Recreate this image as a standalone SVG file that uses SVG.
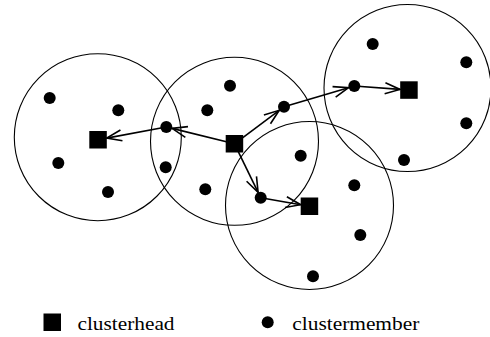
<svg xmlns="http://www.w3.org/2000/svg" width="490" height="337" viewBox="0 0 490 337">
<style>
.range{fill:none;stroke:#000;stroke-width:1.1}
.head{fill:#000}
.mem{fill:#000}
.conn line{stroke:#000;stroke-width:1.6}
.lbl{font-family:"Liberation Serif",serif;font-size:18px;fill:#000}
</style>
<defs>
<marker id="arr" markerUnits="userSpaceOnUse" viewBox="-17 -7 19 14" refX="0" refY="0" markerWidth="19" markerHeight="14" orient="auto" overflow="visible">
<path d="M -15 -5.5 L 0 0 L -15 5.5" fill="none" stroke="#000" stroke-width="1.6"/>
</marker>
</defs>
<rect width="490" height="337" fill="#fff"/>
<g id="ranges">
<circle class="range" cx="97.8" cy="137.2" r="83.5"/>
<circle class="range" cx="234.5" cy="141.3" r="84"/>
<circle class="range" cx="309.5" cy="205.5" r="84"/>
<circle class="range" cx="407.5" cy="88" r="83.5"/>
</g>
<g class="conn" id="connectors">
<line x1="234.5" y1="143.8" x2="172.1" y2="128.4" marker-end="url(#arr)"/>
<line x1="166.3" y1="127" x2="106.7" y2="138.1" marker-end="url(#arr)"/>
<line x1="234.5" y1="143.8" x2="279.2" y2="110.3" marker-end="url(#arr)"/>
<line x1="284" y1="106.7" x2="348.5" y2="87.7" marker-end="url(#arr)"/>
<line x1="354.3" y1="86" x2="400" y2="89.4" marker-end="url(#arr)"/>
<line x1="234.5" y1="143.8" x2="258.1" y2="192.3" marker-end="url(#arr)"/>
<line x1="260.7" y1="197.7" x2="300.7" y2="204.7" marker-end="url(#arr)"/>
</g>
<g id="ch1"><rect class="head" x="89.3" y="131" width="17.5" height="17.5"/></g>
<g id="ch2"><rect class="head" x="225.7" y="135" width="17.5" height="17.5"/></g>
<g id="ch3"><rect class="head" x="300.7" y="197.5" width="17.5" height="17.5"/></g>
<g id="ch4"><rect class="head" x="400.2" y="81.3" width="17.5" height="17.5"/></g>
<g id="m1"><circle class="mem" cx="49.7" cy="98" r="6"/></g>
<g id="m2"><circle class="mem" cx="118.3" cy="110.3" r="6"/></g>
<g id="m3"><circle class="mem" cx="58.3" cy="163" r="6"/></g>
<g id="m4"><circle class="mem" cx="108" cy="192" r="6"/></g>
<g id="m5"><circle class="mem" cx="166.3" cy="127" r="6"/></g>
<g id="m6"><circle class="mem" cx="165.7" cy="167.3" r="6"/></g>
<g id="m7"><circle class="mem" cx="207.3" cy="110.3" r="6"/></g>
<g id="m8"><circle class="mem" cx="230" cy="85.7" r="6"/></g>
<g id="m9"><circle class="mem" cx="205.3" cy="189.3" r="6"/></g>
<g id="m10"><circle class="mem" cx="284" cy="106.7" r="6"/></g>
<g id="m11"><circle class="mem" cx="354.3" cy="86" r="6"/></g>
<g id="m12"><circle class="mem" cx="372.7" cy="44" r="6"/></g>
<g id="m13"><circle class="mem" cx="466.3" cy="62.3" r="6"/></g>
<g id="m14"><circle class="mem" cx="466.3" cy="123.3" r="6"/></g>
<g id="m15"><circle class="mem" cx="404" cy="160" r="6"/></g>
<g id="m16"><circle class="mem" cx="300.7" cy="155.7" r="6"/></g>
<g id="m17"><circle class="mem" cx="354.3" cy="185.3" r="6"/></g>
<g id="m18"><circle class="mem" cx="260.7" cy="197.7" r="6"/></g>
<g id="m19"><circle class="mem" cx="360.3" cy="235" r="6"/></g>
<g id="m20"><circle class="mem" cx="313" cy="276.3" r="6"/></g>
<g id="legend">
<rect class="head" x="43.5" y="313.5" width="17.5" height="17.5"/>
<text class="lbl" x="77.5" y="330" textLength="97" lengthAdjust="spacingAndGlyphs">clusterhead</text>
<circle class="mem" cx="267.7" cy="322.3" r="6"/>
<text class="lbl" x="292.3" y="330" textLength="127" lengthAdjust="spacingAndGlyphs">clustermember</text>
</g>
</svg>
